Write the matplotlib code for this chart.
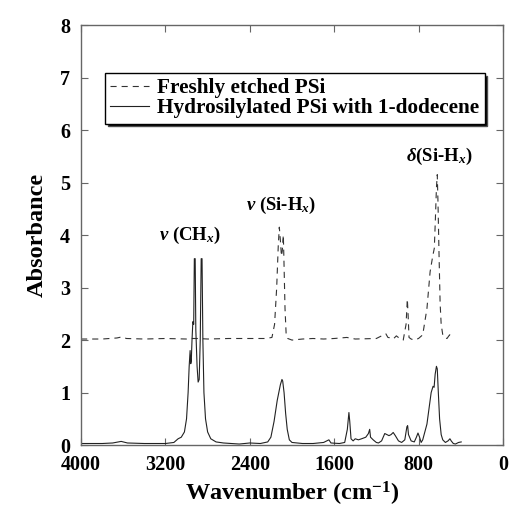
import matplotlib
matplotlib.use('Agg')
import matplotlib.pyplot as plt

# freshly etched PSi (dashed, offset by +2)
fresh_wn = [4000, 3800, 3660, 3614, 3570, 3400, 3200, 3000, 2950, 2900, 2800,
            2600, 2400, 2250, 2190, 2165, 2145, 2130, 2120, 2110, 2100, 2092,
            2082, 2076, 2066, 2055, 2040, 2000, 1900, 1800, 1700, 1600, 1480,
            1400, 1200, 1130, 1110, 1090, 1060, 1040, 1010, 985, 945, 918,
            906, 899, 890, 870, 840, 800, 760, 720, 690, 665, 650, 640, 630,
            622, 615, 605, 595, 585, 570, 555, 530, 505, 485, 462]
fresh_abs = [2.02, 2.02, 2.04, 2.06, 2.03, 2.02, 2.03, 2.02, 2.03, 2.03, 2.02,
             2.03, 2.03, 2.03, 2.05, 2.3, 3.0, 3.8, 4.15, 3.9, 3.6, 3.7,
             4.0, 3.5, 2.6, 2.1, 2.03, 2.0, 2.02, 2.03, 2.02, 2.03, 2.05,
             2.02, 2.03, 2.1, 2.12, 2.05, 2.04, 2.02, 2.08, 2.04, 2.0, 2.3,
             2.78, 2.5, 2.05, 2.02, 2.0, 2.03, 2.1, 2.6, 3.3, 3.6, 3.75, 4.3, 4.9,
             5.15, 4.6, 3.6, 2.7, 2.3, 2.1, 2.05, 2.03, 2.1, 2.08, 2.07]

# hydrosilylated PSi with 1-dodecene (solid)
hyd_wn = [4000, 3800, 3700, 3620, 3560, 3400, 3200, 3120, 3080, 3050, 3020,
          3000, 2985, 2975, 2966, 2960, 2955, 2948, 2940, 2932, 2926, 2918,
          2912, 2900, 2890, 2880, 2870, 2861, 2853, 2845, 2835, 2820, 2800,
          2770, 2720, 2650, 2500, 2400, 2300, 2230, 2200, 2170, 2140, 2110,
          2095, 2088, 2075, 2060, 2045, 2025, 2000, 1900, 1800, 1700, 1650,
          1630, 1550, 1500, 1475, 1460, 1452, 1440, 1420, 1400, 1370, 1340,
          1300, 1275, 1263, 1255, 1230, 1200, 1180, 1150, 1120, 1100, 1080,
          1060, 1040, 1020, 990, 960, 930, 910, 903, 895, 870, 840, 820, 805,
          790, 775, 760, 740, 720, 700, 680, 662, 652, 642, 630, 622, 612,
          600, 585, 570, 545, 520, 502, 490, 470, 450, 420, 395]
hyd_abs = [0.03, 0.03, 0.04, 0.07, 0.04, 0.03, 0.03, 0.05, 0.12, 0.15, 0.25,
           0.5, 1.0, 1.5, 1.8, 1.55, 1.6, 2.0, 2.35, 2.3, 3.55, 3.55,
           2.2, 1.5, 1.2, 1.25, 2.0, 3.55, 3.55, 2.0, 1.0, 0.5, 0.25,
           0.12, 0.06, 0.04, 0.02, 0.04, 0.03, 0.06, 0.15, 0.45, 0.85, 1.15,
           1.25, 1.22, 1.0, 0.6, 0.3, 0.1, 0.05, 0.03, 0.03, 0.05, 0.1,
           0.04, 0.03, 0.05, 0.3, 0.62, 0.45, 0.12, 0.08, 0.12, 0.1, 0.12,
           0.15, 0.22, 0.3, 0.15, 0.1, 0.05, 0.04, 0.08, 0.22, 0.2, 0.18,
           0.2, 0.24, 0.18, 0.08, 0.05, 0.1, 0.35, 0.37, 0.2, 0.08, 0.06, 0.15, 0.23,
           0.15, 0.05, 0.1, 0.25, 0.4, 0.7, 1.0, 1.12, 1.1, 1.35, 1.5, 1.45, 1.0,
           0.5, 0.2, 0.1, 0.05, 0.08, 0.12, 0.08, 0.03, 0.02, 0.05, 0.06]

series_labels = ['Freshly etched PSi', 'Hydrosilylated PSi with 1-dodecene']
peak_labels = [r'$\nu$ (CH$_x$)', r'$\nu$ (Si-H$_x$)', r'$\delta$(Si-H$_x$)']
peak_pos = [(2967, 4.0), (2104, 4.57), (597, 5.49)]
x_ticks = [4000, 3200, 2400, 1600, 800, 0]
y_ticks = [0, 1, 2, 3, 4, 5, 6, 7, 8]

plt.rcParams['font.family'] = ['Liberation Serif', 'DejaVu Serif']
plt.rcParams['font.weight'] = 'bold'
plt.rcParams['axes.labelweight'] = 'bold'
plt.rcParams['mathtext.fontset'] = 'custom'
plt.rcParams['mathtext.rm'] = 'Liberation Serif:bold'
plt.rcParams['mathtext.bf'] = 'Liberation Serif:bold'
plt.rcParams['mathtext.it'] = 'Liberation Serif:italic:bold'

fig = plt.figure(figsize=(5.1, 5.11), dpi=100)
ax = fig.add_axes([0.159, 0.129, 0.827, 0.822])

ax.plot(fresh_wn, fresh_abs, color='#333333', lw=0.8, ls=(0, (5.5, 4.5)),
        label=series_labels[0])
ax.plot(hyd_wn, hyd_abs, color='#222222', lw=0.8, label=series_labels[1])

ax.set_xlim(4000, 0)
ax.set_ylim(0, 8)
ax.set_xticks(x_ticks)
ax.set_yticks(y_ticks)
ax.tick_params(direction='in', length=5, width=0.8, color='#666666',
               labelsize=14.5, top=True, right=True)
ax.tick_params(axis='x', pad=7)
ax.tick_params(axis='y', pad=8)
for sp in ax.spines.values():
    sp.set_color('#666666')
    sp.set_linewidth(1.0)

ax.set_xlabel(r'Wavenumber (cm$^{-1}$)', fontsize=17.5, labelpad=4)
ax.set_ylabel('Absorbance', fontsize=17.5, labelpad=9)

for lab, (xx, yy) in zip(peak_labels, peak_pos):
    ax.text(xx, yy, lab, fontsize=13.5, ha='center', va='center')

leg = ax.legend(loc='upper left', bbox_to_anchor=(0.057, 0.886),
                fontsize=15.3, frameon=True, fancybox=False,
                edgecolor='black', borderpad=0.25, labelspacing=0.0,
                handlelength=1.8, handletextpad=0.4, borderaxespad=0,
                shadow={'facecolor': 'black', 'alpha': 1})
leg.get_frame().set_linewidth(1.0)

fig.savefig('out.png', dpi=100)
